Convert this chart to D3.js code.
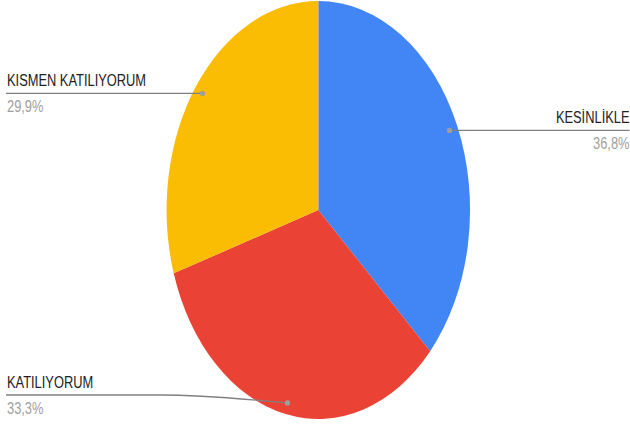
<!DOCTYPE html>
<html>
<head>
<meta charset="utf-8">
<script src="https://cdn.jsdelivr.net/npm/d3@7"></script>
<style>
  html, body { margin: 0; padding: 0; background: #ffffff; }
  svg { display: block; }
  text { font-family: "Liberation Sans", Arial, sans-serif; }
</style>
</head>
<body>
<div id="chart"></div>
<script>
// Survey answers and their shares (percent)
const categories = ["KESİNLİKLE", "KATILIYORUM", "KISMEN KATILIYORUM"];
const shares = [36.8, 33.3, 29.9];
const shareLabels = ["36,8%", "33,3%", "29,9%"];
const colors = ["#4285F4", "#EA4335", "#FBBC04"];

const width = 630, height = 428;
const cx = 318.3, cy = 210;
const R = 209;            // vertical radius
const xScale = 0.726;     // horizontal squeeze of the pie
const textScale = 0.78;   // horizontal squeeze of the label text
const fontSize = 16.5;
const dotFrac = 0.945;    // leader dot position along the radius
const leftX = 6, rightX = 629.5;
const lowestLineY = 395;

const svg = d3.select("#chart").append("svg")
  .attr("width", width).attr("height", height);

const data = categories.map((c, i) => ({ name: c, value: shares[i], label: shareLabels[i], color: colors[i] }));

const pie = d3.pie().sort(null).value(d => d.value);
const arcs = pie(data);

const arc = d3.arc().innerRadius(0).outerRadius(R);
const dotArc = d3.arc().innerRadius(R * dotFrac).outerRadius(R * dotFrac);

const g = svg.append("g")
  .attr("transform", `translate(${cx},${cy}) scale(${xScale},1)`);

g.selectAll("path.slice")
  .data(arcs)
  .join("path")
  .attr("class", "slice")
  .attr("d", arc)
  .attr("fill", d => d.data.color);

// Leader lines and labels
const line = d3.line().curve(d3.curveMonotoneX);

arcs.forEach(a => {
  const c = dotArc.centroid(a);
  const dx = cx + c[0] * xScale;
  const dy = cy + c[1];
  const right = dx > cx;
  const lineY = Math.min(dy, lowestLineY);
  const endX = right ? rightX : leftX;

  let pts;
  if (Math.abs(dy - lineY) > 0.5) {
    const bendX = dx + (endX - dx) * 0.45;
    pts = [[endX, lineY], [bendX, lineY], [dx, dy]];
  } else {
    pts = right ? [[dx, dy], [endX, lineY]] : [[endX, lineY], [dx, dy]];
  }

  svg.append("path")
    .attr("d", line(pts))
    .attr("fill", "none")
    .attr("stroke", "#808080")
    .attr("stroke-width", 1.3);

  svg.append("circle")
    .attr("cx", dx).attr("cy", dy).attr("r", 2.6)
    .attr("fill", "#9e9e9e");

  const anchor = right ? "end" : "start";
  const tx = right ? rightX : leftX + 1;

  svg.append("text")
    .attr("transform", `translate(${tx},${lineY - 7.3}) scale(${textScale},1)`)
    .attr("text-anchor", anchor)
    .attr("font-size", fontSize)
    .attr("fill", "#222222")
    .text(a.data.name);

  svg.append("text")
    .attr("transform", `translate(${tx},${lineY + 18.5}) scale(${textScale},1)`)
    .attr("text-anchor", anchor)
    .attr("font-size", fontSize)
    .attr("fill", "#a0a0a0")
    .text(a.data.label);
});
</script>
</body>
</html>
